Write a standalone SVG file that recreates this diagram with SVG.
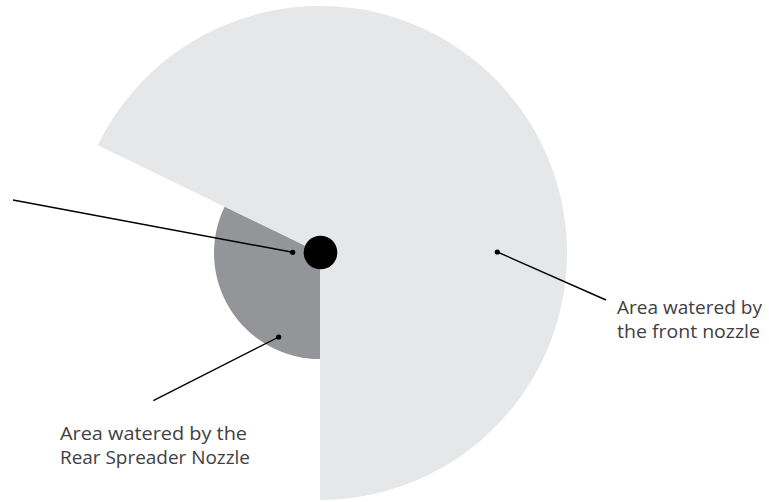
<svg xmlns="http://www.w3.org/2000/svg" width="769" height="502" viewBox="0 0 769 502">
<style>
.lbl{font-family:"Open Sans","Liberation Sans",sans-serif;font-size:17.5px;fill:#414042;font-weight:400}
.ld{stroke:#000;stroke-width:1.4;fill:none}
.dot{fill:#000}
</style>
<rect width="769" height="502" fill="#fff"/>
<g id="front-area">
<path d="M320,253 L320,500 A247,247 0 1 0 97.7,145.3 Z" fill="#e6e7e8"/>
</g>
<g id="rear-area">
<path d="M320,253 L224.6,206.8 A106,106 0 0 0 320,359 Z" fill="#939598"/>
</g>
<g id="nozzle">
<circle cx="320.5" cy="252.5" r="16.8" fill="#000"/>
</g>
<g id="connectors">
<line class="ld" x1="13" y1="200" x2="292.7" y2="252.3"/>
<circle class="dot" cx="292.7" cy="252.3" r="2.6"/>
<line class="ld" x1="153.3" y1="400.7" x2="278.7" y2="337"/>
<circle class="dot" cx="278.7" cy="337" r="2.6"/>
<line class="ld" x1="497.3" y1="252" x2="606" y2="300"/>
<circle class="dot" cx="497.3" cy="252" r="2.6"/>
</g>
<g id="label-front">
<text class="lbl" x="617" y="314" textLength="145" lengthAdjust="spacingAndGlyphs">Area watered by</text>
<text class="lbl" x="617" y="338" textLength="143" lengthAdjust="spacingAndGlyphs">the front nozzle</text>
</g>
<g id="label-rear">
<text class="lbl" x="60" y="440" textLength="187" lengthAdjust="spacingAndGlyphs">Area watered by the</text>
<text class="lbl" x="60" y="464" textLength="190" lengthAdjust="spacingAndGlyphs">Rear Spreader Nozzle</text>
</g>
</svg>
